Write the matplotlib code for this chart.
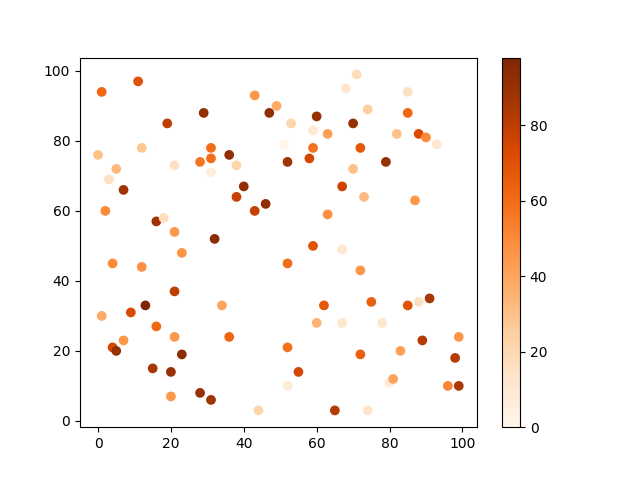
import matplotlib
matplotlib.use('Agg')
import matplotlib.pyplot as plt

x = [1, 11, 0, 12, 5, 3, 7, 2, 19, 29,
     21, 28, 31, 31, 31, 36, 38, 40, 38, 43,
     46, 43, 47, 49, 16, 18, 21, 32, 71, 68,
     85, 74, 85, 60, 53, 70, 59, 63, 82, 88,
     90, 93, 51, 59, 72, 52, 58, 79, 70, 67,
     73, 87, 63, 59, 67, 23, 4, 12, 21, 13,
     34, 1, 9, 16, 7, 21, 36, 4, 5, 23,
     15, 20, 20, 28, 31, 44, 52, 72, 62, 75,
     85, 88, 91, 60, 67, 78, 99, 89, 52, 72,
     83, 98, 55, 52, 80, 81, 96, 99, 65, 74]
y = [94, 97, 76, 78, 72, 69, 66, 60, 85, 88,
     73, 74, 78, 75, 71, 76, 73, 67, 64, 60,
     62, 93, 88, 90, 57, 58, 54, 52, 99, 95,
     94, 89, 88, 87, 85, 85, 83, 82, 82, 82,
     81, 79, 79, 78, 78, 74, 75, 74, 72, 67,
     64, 63, 59, 50, 49, 48, 45, 44, 37, 33,
     33, 30, 31, 27, 23, 24, 24, 21, 20, 19,
     15, 14, 7, 8, 6, 3, 45, 43, 33, 34,
     33, 34, 35, 28, 28, 28, 24, 23, 21, 19,
     20, 18, 14, 10, 11, 12, 10, 10, 3, 3]
c = [62, 70, 30, 28, 33, 15, 88, 50, 80, 92,
     15, 57, 60, 60, 7, 92, 22, 92, 78, 78,
     92, 45, 92, 38, 88, 17, 45, 94, 18, 12,
     15, 25, 62, 90, 22, 90, 10, 42, 30, 72,
     50, 12, 0, 58, 68, 88, 75, 90, 30, 76,
     32, 45, 48, 70, 12, 47, 50, 48, 80, 98,
     40, 38, 72, 62, 45, 45, 63, 75, 90, 93,
     85, 90, 45, 90, 88, 22, 60, 45, 68, 65,
     70, 15, 85, 35, 12, 12, 45, 82, 58, 65,
     42, 82, 75, 8, 10, 40, 52, 84, 82, 14]

fig = plt.figure(figsize=(6.4, 4.8), dpi=100)
plt.scatter(x, y, c=c, cmap='Oranges')
plt.colorbar()
plt.savefig('out.png')
